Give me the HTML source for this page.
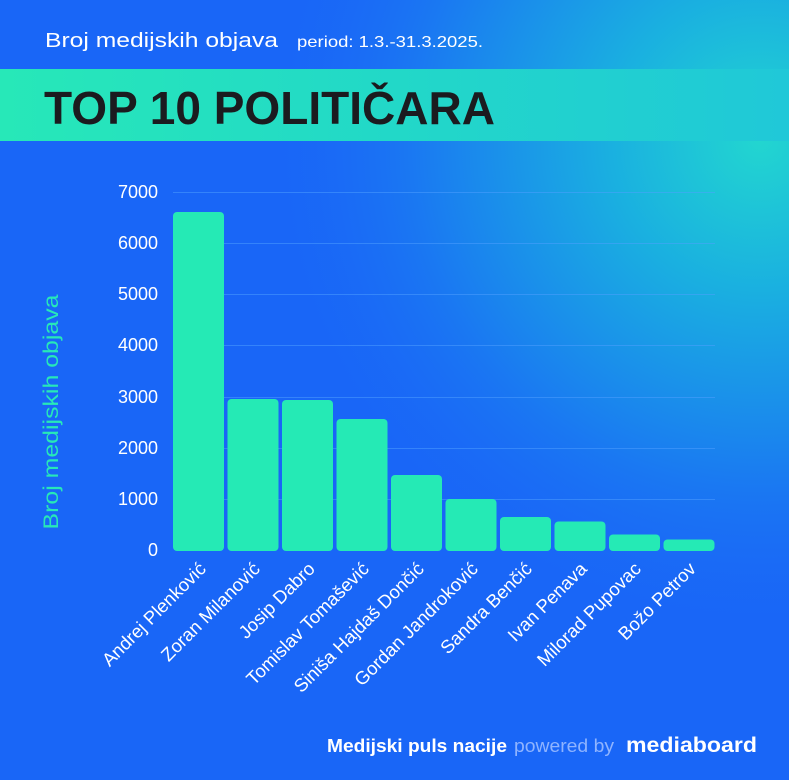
<!DOCTYPE html>
<html><head><meta charset="utf-8"><style>
html,body{margin:0;padding:0}
body{width:789px;height:780px;overflow:hidden;font-family:"Liberation Sans",sans-serif}
</style></head><body>
<svg width="789" height="780" xmlns="http://www.w3.org/2000/svg" style="display:block">
<defs>
<radialGradient id="rg" cx="760" cy="140" r="500" gradientUnits="userSpaceOnUse">
<stop offset="0" stop-color="#22d6d0"/>
<stop offset="0.3" stop-color="#1ab0e0"/>
<stop offset="0.7" stop-color="#1a78f2"/>
<stop offset="1" stop-color="#1a66f7" stop-opacity="0"/>
</radialGradient>
<linearGradient id="band" x1="0" x2="1">
<stop offset="0" stop-color="#27e8b8"/>
<stop offset="0.5" stop-color="#22d8c8"/>
<stop offset="1" stop-color="#20c8d8"/>
</linearGradient>
</defs>
<rect width="789" height="780" fill="#1966f7"/>
<rect width="789" height="780" fill="url(#rg)"/>
<text x="45" y="47" fill="#fff" font-size="20" textLength="233" lengthAdjust="spacingAndGlyphs">Broj medijskih objava</text>
<text x="297" y="47" fill="#fff" font-size="16" textLength="186" lengthAdjust="spacingAndGlyphs">period: 1.3.-31.3.2025.</text>
<rect x="0" y="69" width="789" height="72" fill="url(#band)"/>
<text x="44" y="124" fill="#1b1b1f" font-size="46" font-weight="bold" textLength="451" lengthAdjust="spacingAndGlyphs">TOP 10 POLITIČARA</text>
<g stroke="#4fa0ff" stroke-opacity="0.5" stroke-width="1">
<line x1="173" x2="715" y1="192.5" y2="192.5"/><line x1="173" x2="715" y1="243.5" y2="243.5"/>
<line x1="173" x2="715" y1="294.5" y2="294.5"/><line x1="173" x2="715" y1="345.5" y2="345.5"/>
<line x1="173" x2="715" y1="397.5" y2="397.5"/><line x1="173" x2="715" y1="448.5" y2="448.5"/>
<line x1="173" x2="715" y1="499.5" y2="499.5"/>
</g>
<g fill="#fff" font-size="18" text-anchor="end">
<text x="158" y="198">7000</text><text x="158" y="249">6000</text><text x="158" y="300">5000</text>
<text x="158" y="351">4000</text><text x="158" y="403">3000</text><text x="158" y="454">2000</text>
<text x="158" y="505">1000</text><text x="158" y="556">0</text>
</g>
<text transform="translate(58,412) rotate(-90)" fill="#27e8b8" font-size="21" text-anchor="middle" textLength="235" lengthAdjust="spacingAndGlyphs">Broj medijskih objava</text>
<g fill="#25eab5">
<rect x="173" y="212" width="51" height="339" rx="4"/>
<rect x="227.5" y="399" width="51" height="152" rx="4"/>
<rect x="282" y="400" width="51" height="151" rx="4"/>
<rect x="336.5" y="419" width="51" height="132" rx="4"/>
<rect x="391" y="475" width="51" height="76" rx="4"/>
<rect x="445.5" y="499" width="51" height="52" rx="4"/>
<rect x="500" y="517" width="51" height="34" rx="4"/>
<rect x="554.5" y="521.5" width="51" height="29.5" rx="4"/>
<rect x="609" y="534.5" width="51" height="16.5" rx="4"/>
<rect x="663.5" y="539.5" width="51" height="11.5" rx="4"/>
</g>
<g fill="#fff" font-size="18.5" text-anchor="end">
<text transform="translate(207,570) rotate(-45)">Andrej Plenković</text>
<text transform="translate(261,570) rotate(-45)">Zoran Milanović</text>
<text transform="translate(316,570) rotate(-45)">Josip Dabro</text>
<text transform="translate(370,570) rotate(-45)">Tomislav Tomašević</text>
<text transform="translate(425,570) rotate(-45)">Siniša Hajdaš Dončić</text>
<text transform="translate(479,570) rotate(-45)">Gordan Jandroković</text>
<text transform="translate(533,570) rotate(-45)">Sandra Benčić</text>
<text transform="translate(588,570) rotate(-45)">Ivan Penava</text>
<text transform="translate(642,570) rotate(-45)">Milorad Pupovac</text>
<text transform="translate(697,570) rotate(-45)">Božo Petrov</text>
</g>
<text x="327" y="752" fill="#fff" font-size="18" font-weight="bold" textLength="180" lengthAdjust="spacingAndGlyphs">Medijski puls nacije</text>
<text x="514" y="752" fill="#8fb4ff" font-size="18" textLength="100" lengthAdjust="spacingAndGlyphs">powered by</text>
<text x="626" y="752" fill="#fff" font-size="21" font-weight="bold" textLength="131" lengthAdjust="spacingAndGlyphs">mediaboard</text>
</svg>
</body></html>
